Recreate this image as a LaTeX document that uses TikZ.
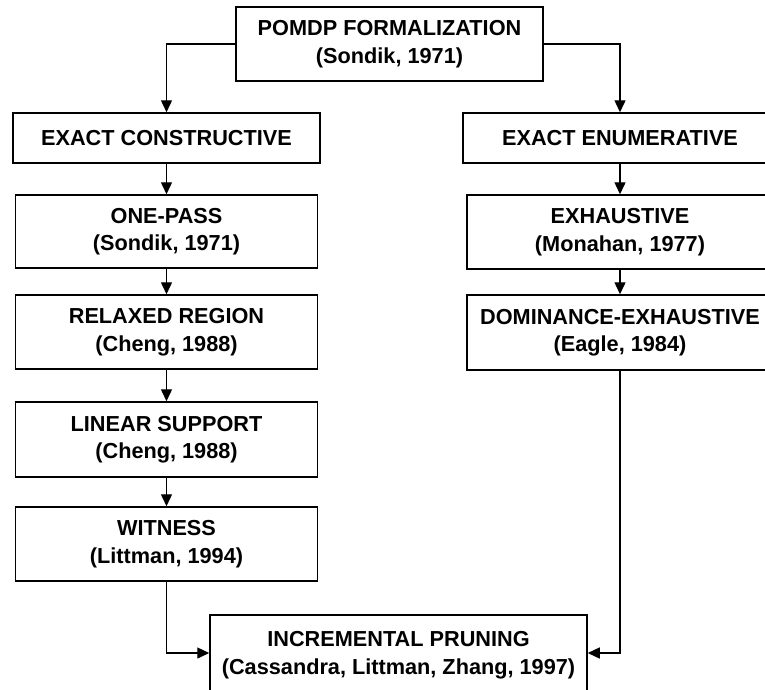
\documentclass[tikz,border=0pt]{standalone}
\usepackage{fontspec}
\setmainfont{Liberation Sans}
\usetikzlibrary{arrows.meta}

\tikzset{
  stage/.style={draw=black, line width=1.5pt, fill=white, inner sep=0pt,
    align=center, font=\bfseries\fontsize{21.7}{27.5}\selectfont},
  flow/.style={draw=black, line width=1.4pt, -{Triangle[length=12pt,width=11pt]}}
}

\begin{document}
\begin{tikzpicture}[x=1pt, y=-1pt]
  \useasboundingbox (0,0) rectangle (765,689);
  \clip (0,0) rectangle (765,689);

  % root of the taxonomy
  \node[stage, minimum width=307pt, minimum height=74pt] (pomdp) at (389.5,44)
    {POMDP FORMALIZATION\\(Sondik, 1971)};

  % constructive branch
  \node[stage, minimum width=307pt, minimum height=50pt] (constr) at (166.5,138)
    {EXACT CONSTRUCTIVE};
  \node[stage, minimum width=302pt, minimum height=73pt] (onepass) at (166.5,231.5)
    {ONE-PASS\\(Sondik, 1971)};
  \node[stage, minimum width=302pt, minimum height=74pt] (relaxed) at (166.5,332)
    {RELAXED REGION\\(Cheng, 1988)};
  \node[stage, minimum width=302pt, minimum height=75pt] (linsup) at (166.5,439.5)
    {LINEAR SUPPORT\\(Cheng, 1988)};
  \node[stage, minimum width=302pt, minimum height=74pt] (witness) at (166.5,544)
    {WITNESS\\(Littman, 1994)};

  % enumerative branch
  \node[stage, minimum width=314pt, minimum height=50pt] (enum) at (620,138)
    {EXACT ENUMERATIVE};
  \node[stage, minimum width=306pt, minimum height=74pt] (exhaust) at (620,232)
    {EXHAUSTIVE\\(Monahan, 1977)};
  \node[stage, minimum width=306pt, minimum height=75pt] (domex) at (620,332.5)
    {DOMINANCE-EXHAUSTIVE\\(Eagle, 1984)};

  % merged result, running past the lower edge
  \node[stage, minimum width=377pt, minimum height=80pt] (incprune) at (398.5,655)
    {INCREMENTAL PRUNING\\(Cassandra, Littman, Zhang, 1997)};

  % connectors
  \draw[flow] (pomdp.west) -| (constr.north);
  \draw[flow] (pomdp.east) -| (enum.north);
  \draw[flow] (constr) -- (onepass);
  \draw[flow] (onepass) -- (relaxed);
  \draw[flow] (relaxed) -- (linsup);
  \draw[flow] (linsup) -- (witness);
  \draw[flow] (enum) -- (exhaust);
  \draw[flow] (exhaust) -- (domex);
  \draw[flow] (witness.south) |- ([yshift=2pt]incprune.west);
  \draw[flow] (domex.south) |- ([yshift=2pt]incprune.east);
\end{tikzpicture}
\end{document}
